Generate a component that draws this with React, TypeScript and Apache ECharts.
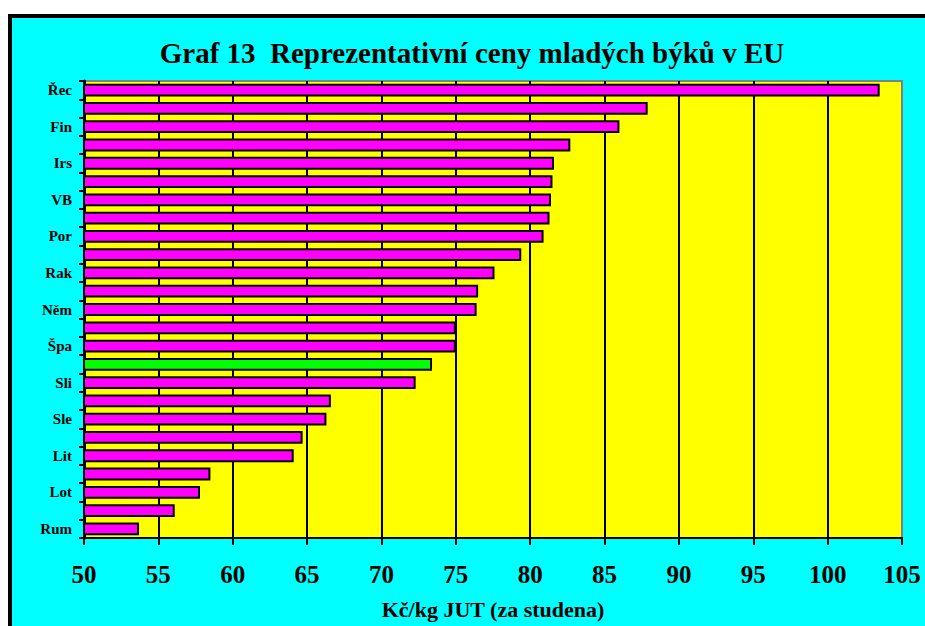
import React, { useEffect, useRef } from "react";
import * as echarts from "echarts";

const categories: string[] = [
  "Řec", "Ita", "Fin", "Bel", "Irs", "Fra", "VB", "Lux", "Por", "Niz",
  "Rak", "Dán", "Něm", "Švé", "Špa", "ČR", "Sli", "Maď", "Sle", "Est",
  "Lit", "Pol", "Lot", "Bul", "Rum",
];
const prices: number[] = [
  103.5, 87.9, 86.0, 82.7, 81.6, 81.5, 81.4, 81.3, 80.9, 79.4,
  77.6, 76.5, 76.4, 75.0, 75.0, 73.4, 72.3, 66.6, 66.3, 64.7,
  64.1, 58.5, 57.8, 56.1, 53.7,
];
const highlighted: string[] = ["ČR"];
const titleText = "Graf 13  Reprezentativní ceny mladých býků v EU";
const xAxisName = "Kč/kg JUT (za studena)";
const xMin = 50;
const xMax = 105;
const xStep = 5;

const FONT = "'Liberation Serif', 'Times New Roman', serif";

export default function App() {
  const ref = useRef<HTMLDivElement>(null);

  useEffect(() => {
    if (!ref.current) return;
    const chart = echarts.init(ref.current, undefined, { renderer: "svg" });
    chart.setOption({
      animation: false,
      backgroundColor: "transparent",
      graphic: [
        {
          type: "text",
          x: 472,
          y: 53,
          style: {
            text: titleText,
            font: `bold 29px ${FONT}`,
            fill: "#000",
            textAlign: "center",
            textVerticalAlign: "middle",
          },
        },
      ],
      grid: {
        left: 84,
        top: 81,
        width: 818,
        height: 457,
        show: true,
        backgroundColor: "#FFFF00",
        borderColor: "#808080",
        borderWidth: 2,
      },
      xAxis: {
        type: "value",
        min: xMin,
        max: xMax,
        interval: xStep,
        name: xAxisName,
        nameLocation: "middle",
        nameGap: 60,
        nameTextStyle: {
          fontFamily: FONT,
          fontWeight: "bold",
          fontSize: 22,
          color: "#000",
        },
        axisLine: { show: true, lineStyle: { color: "#000", width: 2 } },
        axisTick: { show: true, length: 7, lineStyle: { color: "#000", width: 2 } },
        axisLabel: {
          fontFamily: FONT,
          fontWeight: "bold",
          fontSize: 25,
          color: "#000",
          margin: 24,
        },
        splitLine: {
          show: true,
          showMinLine: false,
          showMaxLine: false,
          lineStyle: { color: "#000", width: 2 },
        },
      },
      yAxis: {
        type: "category",
        inverse: true,
        data: categories,
        axisLine: { show: true, lineStyle: { color: "#000", width: 3 } },
        axisTick: {
          show: true,
          interval: 0,
          length: 5,
          lineStyle: { color: "#000", width: 2 },
        },
        axisLabel: {
          interval: 1,
          fontFamily: FONT,
          fontWeight: "bold",
          fontSize: 15,
          color: "#000",
          margin: 12,
        },
        splitLine: { show: false },
      },
      series: [
        {
          type: "bar",
          barCategoryGap: "30%",
          data: prices.map((v, i) => ({
            value: v,
            itemStyle: {
              color: highlighted.includes(categories[i]) ? "#00FF00" : "#FF00FF",
              borderColor: "#000",
              borderWidth: 2,
            },
          })),
          z: 3,
        },
      ],
    });
    return () => chart.dispose();
  }, []);

  return (
    <div
      style={{
        position: "fixed",
        left: 0,
        top: 0,
        width: 925,
        height: 626,
        overflow: "hidden",
        background: "#fff",
      }}
    >
      <div
        style={{
          position: "absolute",
          left: 8,
          top: 14,
          width: 1000,
          height: 700,
          background: "#00FFFF",
          borderLeft: "4px solid #000",
          borderTop: "4px solid #000",
        }}
      />
      <div
        ref={ref}
        style={{ position: "absolute", left: 0, top: 0, width: 925, height: 626 }}
      />
    </div>
  );
}
